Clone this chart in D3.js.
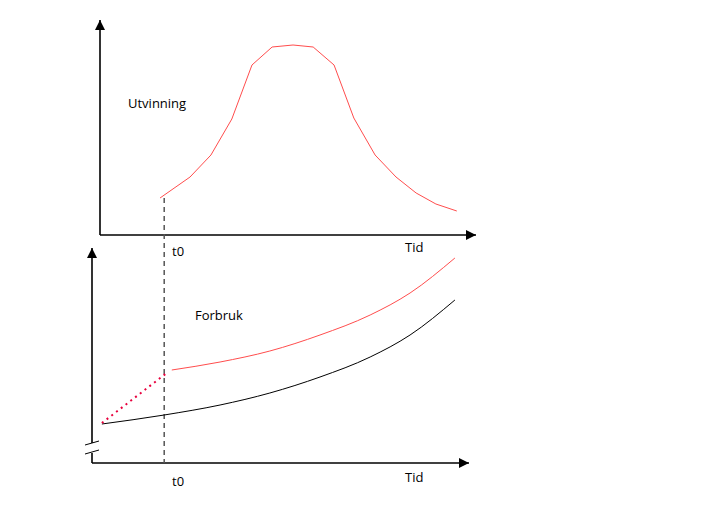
<!DOCTYPE html>
<html><head><meta charset="utf-8">
<script src="https://cdn.jsdelivr.net/npm/d3@7"></script>
<style>body{margin:0;background:#fff}text{font-family:"Open Sans",sans-serif;font-size:13px;fill:#000}</style>
</head><body><svg width="719" height="518"></svg>
<script>
// time runs 0..100 on both panels
const utvinning = [[17.9,18.5],[25.8,29],[31.3,40],[36.8,58],[42.1,85],[47.4,94],[52.9,95],[58.2,94],[63.7,85],[68.9,58.5],[74.5,40],[80,29],[85.3,21],[90.5,15.5],[96,12]];
const forbrukRed = [[21,46.5],[33.7,50.5],[46.8,56],[60,64],[73.2,74],[83.7,85],[95.5,102.5]];
const forbrukBlack = [[2.6,19.5],[19,24],[33.7,29],[46.8,35],[60,43],[73.2,53],[83.7,64],[95.5,81.5]];
const forbrukDotted = [[2.6,20],[20,45.5]];
const t0 = 19;

const svg = d3.select("svg");
const x = d3.scaleLinear().domain([0, 100]).range([92, 472]);
const yTop = d3.scaleLinear().domain([0, 100]).range([235, 35]);
const yBot = d3.scaleLinear().domain([0, 100]).range([463, 263]);

svg.append("defs").append("marker").attr("id", "arr")
  .attr("viewBox", "0 0 10 10").attr("refX", 10).attr("refY", 5)
  .attr("markerWidth", 10).attr("markerHeight", 10).attr("markerUnits", "userSpaceOnUse")
  .attr("orient", "auto")
  .append("path").attr("d", "M0,0L10,5L0,10Z").attr("fill", "#000");

const ax = (x1, y1, x2, y2) => svg.append("line").attr("x1", x1).attr("y1", y1).attr("x2", x2).attr("y2", y2)
  .attr("stroke", "#000").attr("stroke-width", 1.6).attr("marker-end", "url(#arr)");

// top panel axes
ax(100, yTop(0), 100, 20);
ax(100, yTop(0), 476, yTop(0));
// bottom panel axes (broken y axis)
ax(92, yBot(0), 92, 248);
svg.append("line").attr("x1", 92).attr("y1", yBot(0)).attr("x2", 469).attr("y2", yBot(0)).attr("stroke", "#000").attr("stroke-width", 1.6).attr("marker-end", "url(#arr)");
// break mark
svg.append("rect").attr("x", 88).attr("y", 443).attr("width", 8).attr("height", 10).attr("fill", "#fff");
[443, 452].forEach(yy => svg.append("line").attr("x1", 85).attr("y1", yy + 2).attr("x2", 99).attr("y2", yy - 2).attr("stroke", "#000").attr("stroke-width", 1));

// t0 dashed line
svg.append("line").attr("x1", x(t0)).attr("x2", x(t0)).attr("y1", yTop(utvinning[0][1])).attr("y2", yBot(0))
  .attr("stroke", "#555").attr("stroke-width", 1.5).attr("stroke-dasharray", "5,4");

const line = (y, c) => d3.line().curve(c || d3.curveLinear).x(d => x(d[0])).y(d => y(d[1]));
svg.append("path").datum(utvinning).attr("d", line(yTop)).attr("fill", "none").attr("stroke", "#ff4d4d").attr("stroke-width", 1);
svg.append("path").datum(forbrukRed).attr("d", line(yBot, d3.curveMonotoneX)).attr("fill", "none").attr("stroke", "#ff4d4d").attr("stroke-width", 1);
svg.append("path").datum(forbrukBlack).attr("d", line(yBot, d3.curveMonotoneX)).attr("fill", "none").attr("stroke", "#000").attr("stroke-width", 1);
svg.append("path").datum(forbrukDotted).attr("d", line(yBot)).attr("fill", "none").attr("stroke", "#e8003d")
  .attr("stroke-width", 2).attr("stroke-dasharray", "2,4");

const lab = (t, xx, yy) => svg.append("text").attr("x", xx).attr("y", yy).text(t);
lab("Utvinning", 128, 108);
lab("Forbruk", 195, 320);
lab("Tid", 405, 252);
lab("Tid", 405, 482);
lab("t0", 172, 256);
lab("t0", 172, 486);
</script></body></html>
